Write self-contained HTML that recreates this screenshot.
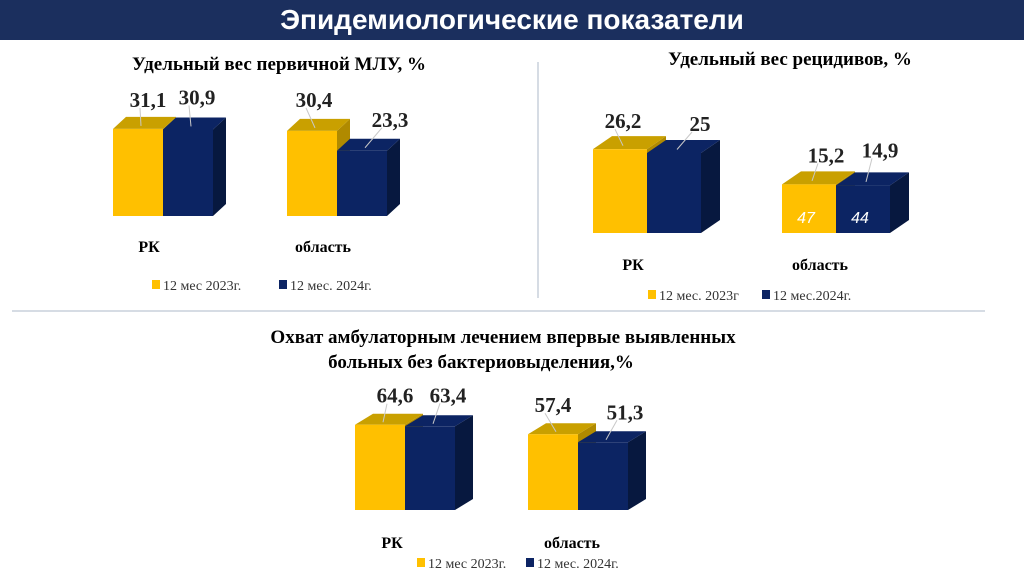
<!DOCTYPE html>
<html><head><meta charset="utf-8">
<style>
body{margin:0;width:1024px;height:574px;background:#fff;overflow:hidden;font-family:"Liberation Serif",serif;}
#hdr{position:absolute;left:0;top:0;width:1024px;height:40px;background:#1b2f5e;color:#fff;font:bold 28px "Liberation Sans",sans-serif;text-align:center;line-height:40px;}
svg{position:absolute;left:0;top:0}
</style></head><body>
<div id="hdr">Эпидемиологические показатели</div>
<svg id="s" width="1024" height="574">
<line x1="538" y1="62" x2="538" y2="298" stroke="#c8d0dc" stroke-width="1.5"/>
<line x1="12" y1="311" x2="985" y2="311" stroke="#c8d0dc" stroke-width="1.5"/>
<text x="279" y="70" text-anchor="middle" font-weight="bold" font-size="19">Удельный вес первичной МЛУ, %</text>
<text x="790" y="65" text-anchor="middle" font-weight="bold" font-size="19">Удельный вес рецидивов, %</text>
<text x="503" y="343" text-anchor="middle" font-weight="bold" font-size="19">Охват амбулаторным лечением впервые выявленных</text>
<text x="481" y="368" text-anchor="middle" font-weight="bold" font-size="19">больных  без бактериовыделения,%</text>
</svg>
<script>
const categories=["РК","область"];
const chart1_2023=[31.1,30.4];
const chart1_2024=[30.9,23.3];
const chart2_2023=[26.2,15.2];
const chart2_2024=[25,14.9];
const chart2_inner=["47","44"];
const chart3_2023=[64.6,57.4];
const chart3_2024=[63.4,51.3];
const legend1=["12 мес 2023г.","12 мес. 2024г."];
const legend2=["12 мес. 2023г","12 мес.2024г."];
const legend3=["12 мес 2023г.","12 мес. 2024г."];
const svg=document.getElementById('s');const NS='http://www.w3.org/2000/svg';
function mk(t,a,p){const e=document.createElementNS(NS,t);for(const k in a)e.setAttribute(k,a[k]);(p||svg).appendChild(e);return e;}
const COL=[{f:'#ffc000',t:'#c9a000',s:'#b08a00'},{f:'#0c2463',t:'#0c2463',s:'#07183f'}];
function chart(id,cfg){
 const g=mk('g',{});
 
 
 const y=v=>cfg.base-v*cfg.k;
 categories.forEach((c,ci)=>{
  [cfg.s1,cfg.s2].forEach((ser,si)=>{
   const v=ser[ci];const x0=cfg.gx[ci]+si*cfg.w,x1=x0+cfg.w,top=y(v),dx=cfg.dx,dy=cfg.dy,col=COL[si];
   const bg=mk('g',{},g);
   
   
   mk('polygon',{points:`${x1},${top} ${x1+dx},${top-dy} ${x1+dx},${cfg.base-dy} ${x1},${cfg.base}`,fill:col.s},bg);
   mk('polygon',{points:`${x0},${top} ${x0+dx},${top-dy} ${x1+dx},${top-dy} ${x1},${top}`,fill:col.t},bg);
   mk('rect',{x:x0,y:top,width:cfg.w,height:cfg.base-top,fill:col.f},bg);
   const off=cfg.lo[ci*2+si];
   const cx=x0+cfg.w/2,lx=cx+off[0],ly=top+off[1];
   mk('line',{x1:cx+3,y1:top-dy/2+3,x2:lx-8,y2:ly+1,stroke:'#c8c8c8','stroke-width':1},bg);
   const t=mk('text',{x:lx,y:ly,'text-anchor':'middle','font-weight':'bold','font-size':21,fill:'#222'},bg);
   t.textContent=String(v).replace('.',',');
   
   
   if(cfg.inner&&ci==1){const it=mk('text',{x:cx-3,y:cfg.base-10,'text-anchor':'middle','font-style':'italic','font-size':16,fill:'#fff','font-family':'Liberation Sans,sans-serif'},bg);it.textContent=cfg.inner[si];
    
    }
  });
  const ct=mk('text',{x:cfg.cx[ci],y:cfg.cy,'text-anchor':'middle','font-weight':'bold','font-size':16},g);
  ct.textContent=c;
  
  
 });
 cfg.leg.forEach((l,i)=>{
  const lg=mk('g',{},g);
  
  
  mk('rect',{x:cfg.lx[i],y:cfg.ly-10,width:8,height:9,fill:COL[i].f},lg);
  const lt=mk('text',{x:cfg.lx[i]+11,y:cfg.ly,'font-size':14,fill:'#333'},lg);lt.textContent=l;
 });
}
chart('chart1',{base:216,k:2.8,w:50,dx:13,dy:12,gx:[113,287],s1:chart1_2023,s2:chart1_2024,lo:[[10,-22],[9,-25],[2,-24],[28,-24]],cx:[149,323],cy:252,leg:legend1,lx:[152,279],ly:290});
chart('chart2',{base:233,k:3.2,w:54,dx:19,dy:13,gx:[593,782],s1:chart2_2023,s2:chart2_2024,inner:chart2_inner,lo:[[3,-21],[26,-22],[17,-22],[17,-28]],cx:[633,820],cy:270,leg:legend2,lx:[648,762],ly:300});
chart('chart3',{base:510,k:1.32,w:50,dx:18,dy:11,gx:[355,528],s1:chart3_2023,s2:chart3_2024,lo:[[15,-22],[18,-24],[0,-22],[22,-23]],cx:[392,572],cy:548,leg:legend3,lx:[417,526],ly:568});
</script>
</body></html>
